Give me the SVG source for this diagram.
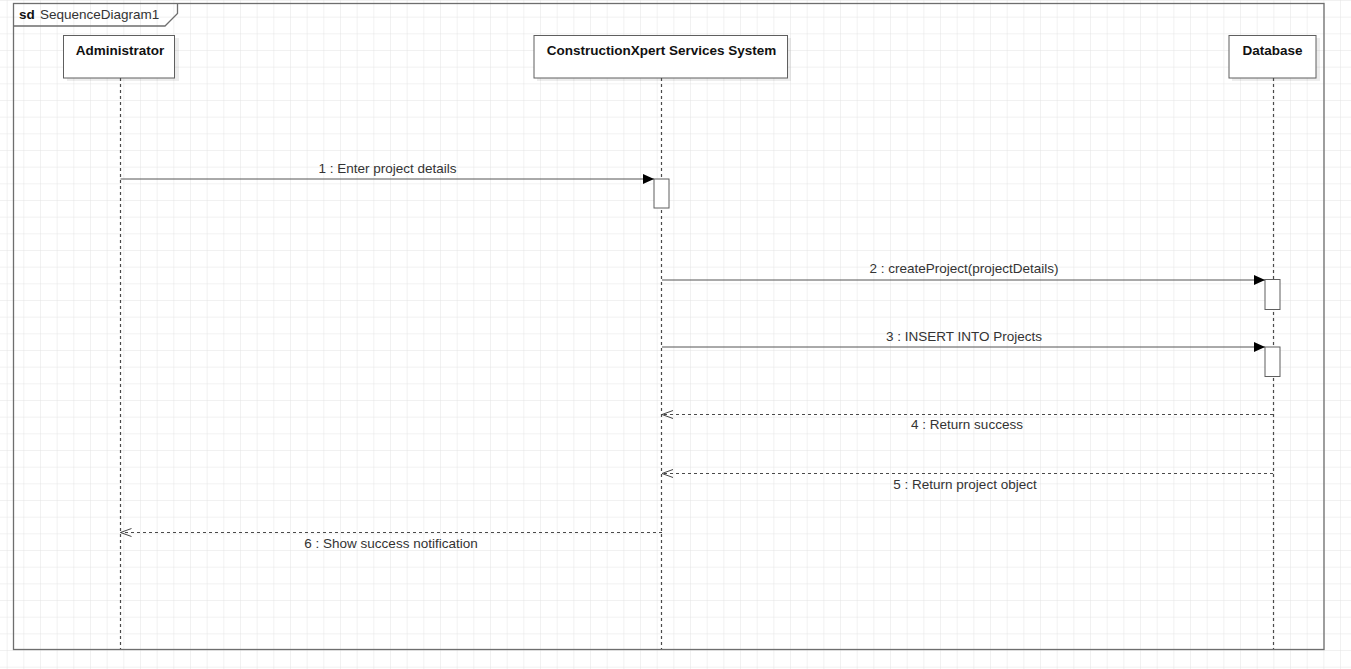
<svg xmlns="http://www.w3.org/2000/svg" width="1351" height="669" viewBox="0 0 1351 669">
<style>
  text { font-family: "Liberation Sans", Arial, sans-serif; font-size: 13.5px; fill: #333; }
  .title { font-weight: bold; fill: #111; }
  .box { fill: #fff; stroke: #5f5f5f; stroke-width: 1; }
  .shadow { fill: #000; opacity: 0.07; }
  .life { stroke: #4a4a4a; stroke-width: 1.2; stroke-dasharray: 3 3; fill: none; }
  .act { fill: #fff; stroke: #5f5f5f; stroke-width: 1; }
  .msg { stroke: #555; stroke-width: 1; fill: none; }
  .ret { stroke: #4a4a4a; stroke-width: 1.2; stroke-dasharray: 3 3; fill: none; }
  .frame { fill: none; stroke: #6e6e6e; stroke-width: 1.3; }
</style>
<defs>
  <pattern id="grid" width="16.667" height="16.667" patternUnits="userSpaceOnUse" x="6.667" y="0">
    <path d="M 0 0 L 16.667 0 M 0 0 L 0 16.667" stroke="#e3e3e3" stroke-width="1" fill="none"/>
  </pattern>
  <marker id="filled" markerWidth="12" markerHeight="10" refX="11" refY="5" orient="auto" markerUnits="userSpaceOnUse">
    <path d="M0,0 L11,5 L0,10 Z" fill="#000"/>
  </marker>
  <marker id="open" markerWidth="12" markerHeight="10" refX="11" refY="5" orient="auto" markerUnits="userSpaceOnUse">
    <path d="M0,1 L11,5 L0,9" fill="none" stroke="#444" stroke-width="1"/>
  </marker>
</defs>
<rect x="0" y="0" width="1351" height="669" fill="#fff"/>
<rect x="0" y="0" width="1351" height="669" fill="url(#grid)"/>

<g id="frame">
  <rect class="frame" x="13.5" y="3.5" width="1310.5" height="646"/>
  <path class="frame" d="M13.5,26 L165,26 L177.5,13.5 L177.5,3.5"/>
  <text x="19" y="18.5" class="title">sd</text>
  <text x="40" y="18.5">SequenceDiagram1</text>
</g>

<g id="administrator">
  <rect class="shadow" x="67" y="38" width="112" height="43"/>
  <rect class="box" x="63.5" y="35.5" width="111" height="42.5"/>
  <text x="120" y="54.5" text-anchor="middle" class="title">Administrator</text>
  <line class="life" x1="120.5" y1="78" x2="120.5" y2="649"/>
</g>

<g id="system">
  <rect class="shadow" x="537" y="38" width="254" height="43"/>
  <rect class="box" x="534" y="35.5" width="253.5" height="42.5"/>
  <text x="661.5" y="54.5" text-anchor="middle" class="title">ConstructionXpert Services System</text>
  <line class="life" x1="661.5" y1="78" x2="661.5" y2="649"/>
  <rect class="act" x="654" y="179" width="15" height="29"/>
</g>

<g id="database">
  <rect class="shadow" x="1232" y="38" width="88" height="43"/>
  <rect class="box" x="1229" y="35.5" width="87" height="42.5"/>
  <text x="1272.5" y="54.5" text-anchor="middle" class="title">Database</text>
  <line class="life" x1="1273.5" y1="78" x2="1273.5" y2="649"/>
  <rect class="act" x="1265" y="279.5" width="15" height="30"/>
  <rect class="act" x="1265" y="347" width="15" height="29.5"/>
</g>

<g id="connectors">
  <line class="msg" x1="120.5" y1="179" x2="654" y2="179" marker-end="url(#filled)"/>
  <text x="387.5" y="173" text-anchor="middle">1 : Enter project details</text>

  <line class="msg" x1="662" y1="280" x2="1265" y2="280" marker-end="url(#filled)"/>
  <text x="964" y="273" text-anchor="middle">2 : createProject(projectDetails)</text>

  <line class="msg" x1="662" y1="347" x2="1265" y2="347" marker-end="url(#filled)"/>
  <text x="964" y="341" text-anchor="middle">3 : INSERT INTO Projects</text>

  <line class="ret" x1="1273" y1="414.5" x2="662" y2="414.5" marker-end="url(#open)"/>
  <text x="967" y="429" text-anchor="middle">4 : Return success</text>

  <line class="ret" x1="1273" y1="473.5" x2="662" y2="473.5" marker-end="url(#open)"/>
  <text x="965" y="489" text-anchor="middle">5 : Return project object</text>

  <line class="ret" x1="662" y1="532.5" x2="120.5" y2="532.5" marker-end="url(#open)"/>
  <text x="391" y="548" text-anchor="middle">6 : Show success notification</text>
</g>
</svg>
